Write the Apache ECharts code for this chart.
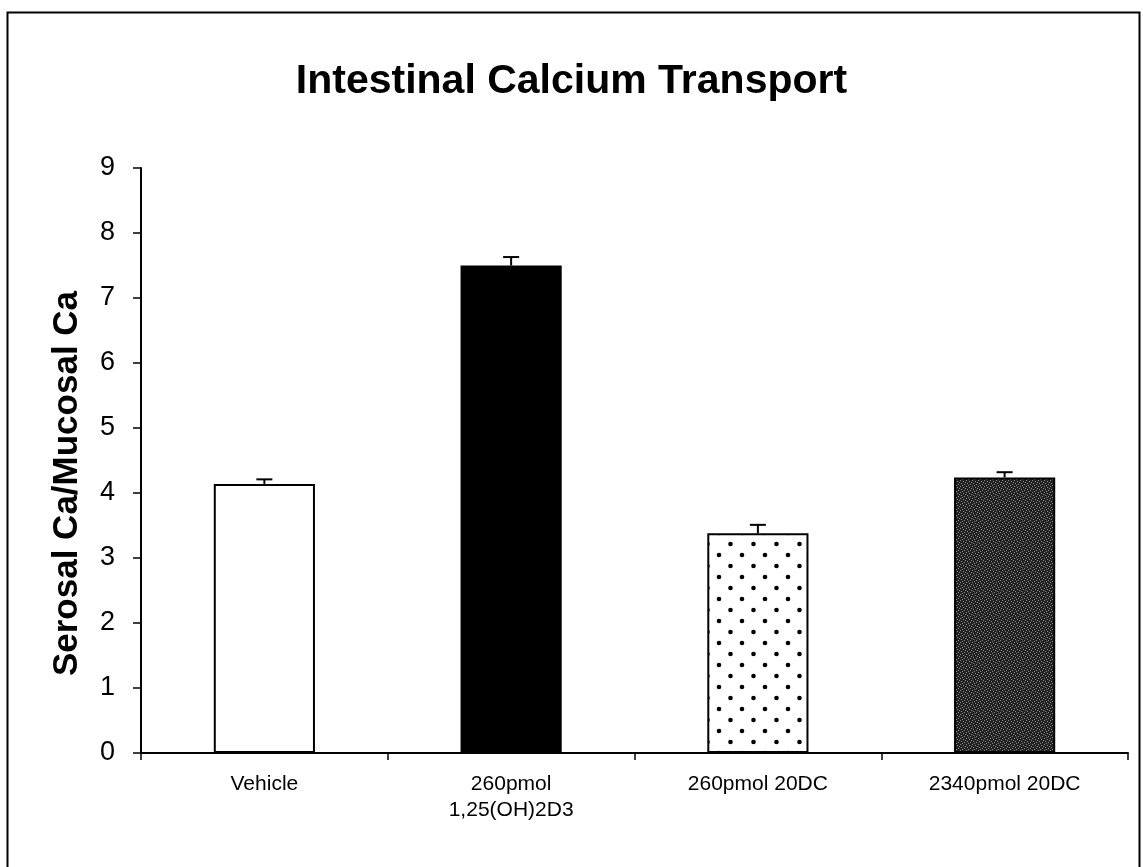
<!DOCTYPE html>
<html>
<head>
<meta charset="utf-8">
<script src="https://cdn.jsdelivr.net/npm/echarts@6/dist/echarts.min.js"></script>
<style>html,body{margin:0;padding:0;background:#fff;}#c{width:1143px;height:867px;}</style>
</head>
<body>
<div id="c"></div>
<script>
const categories = ['Vehicle', '260pmol\n1,25(OH)2D3', '260pmol 20DC', '2340pmol 20DC'];
const means = [4.14, 7.50, 3.38, 4.24];
const errors = [0.07, 0.13, 0.13, 0.08];
const yTicks = [0, 1, 2, 3, 4, 5, 6, 7, 8, 9];

function dotPattern() {
  const c = document.createElement('canvas');
  c.width = 23; c.height = 22;
  const g = c.getContext('2d');
  g.fillStyle = '#fff'; g.fillRect(0, 0, 23, 22);
  g.fillStyle = '#000';
  g.beginPath(); g.arc(6, 5, 2.3, 0, Math.PI * 2); g.fill();
  g.beginPath(); g.arc(17.5, 16, 2.3, 0, Math.PI * 2); g.fill();
  return c;
}
function stipplePattern() {
  const c = document.createElement('canvas');
  c.width = 6; c.height = 6;
  const g = c.getContext('2d');
  g.fillStyle = '#222222'; g.fillRect(0, 0, 6, 6);
  g.fillStyle = '#8a8a8a';
  [[0,0],[3,1],[1,3],[4,4],[2,5],[5,2]].forEach(p => g.fillRect(p[0], p[1], 1, 1));
  return c;
}

const barColors = [
  '#ffffff',
  '#000000',
  { image: dotPattern(), repeat: 'repeat' },
  { image: stipplePattern(), repeat: 'repeat' }
];

const chart = echarts.init(document.getElementById('c'), null, { renderer: 'canvas' });
const font = 'Liberation Sans, Arial, sans-serif';
chart.setOption({
  backgroundColor: '#fff',
  animation: false,
  title: {
    text: 'Intestinal Calcium Transport',
    left: 'center', top: 56,
    textStyle: { fontFamily: font, fontSize: 41, fontWeight: 'bold', color: '#000' }
  },
  graphic: [{
    type: 'rect', left: 5, top: 10,
    shape: { width: 1132, height: 900 },
    style: { fill: 'none', stroke: '#000', lineWidth: 2 }
  }],
  grid: { left: 141, right: 15, top: 168, bottom: 114 },
  xAxis: {
    type: 'category',
    data: categories,
    axisLine: { lineStyle: { color: '#000', width: 2 } },
    axisTick: { show: true, length: 7, lineStyle: { color: '#000', width: 1.5 } },
    axisLabel: { fontFamily: font, fontSize: 21, color: '#000', margin: 18, lineHeight: 26, interval: 0 }
  },
  yAxis: {
    type: 'value',
    min: 0, max: 9, interval: 1,
    name: 'Serosal Ca/Mucosal Ca',
    nameLocation: 'middle',
    nameGap: 56,
    nameTextStyle: { fontFamily: font, fontSize: 35, fontWeight: 'bold', color: '#000',
      padding: [0, 46, 0, 0] },
    axisLine: { show: true, lineStyle: { color: '#000', width: 2 } },
    axisTick: { show: true, length: 8, lineStyle: { color: '#000', width: 1.5 } },
    axisLabel: { fontFamily: font, fontSize: 27, color: '#000', margin: 26,
      formatter: v => (yTicks.indexOf(v) >= 0 ? String(v) : '') },
    splitLine: { show: false }
  },
  series: [{
    type: 'bar',
    barWidth: '41%',
    data: means.map((v, i) => ({
      value: v,
      itemStyle: { color: barColors[i], borderColor: '#000', borderWidth: 2 }
    }))
  }, {
    type: 'custom',
    data: means.map((v, i) => [i, v, errors[i]]),
    z: 5,
    renderItem: function (params, api) {
      const x = api.value(0), v = api.value(1), e = api.value(2);
      const base = api.coord([x, v]);
      const top = api.coord([x, v + e]);
      return {
        type: 'group',
        children: [
          { type: 'line', shape: { x1: base[0], y1: base[1], x2: top[0], y2: top[1] },
            style: { stroke: '#000', lineWidth: 2 } },
          { type: 'line', shape: { x1: top[0] - 8, y1: top[1], x2: top[0] + 8, y2: top[1] },
            style: { stroke: '#000', lineWidth: 2 } }
        ]
      };
    }
  }]
});
</script>
</body>
</html>
